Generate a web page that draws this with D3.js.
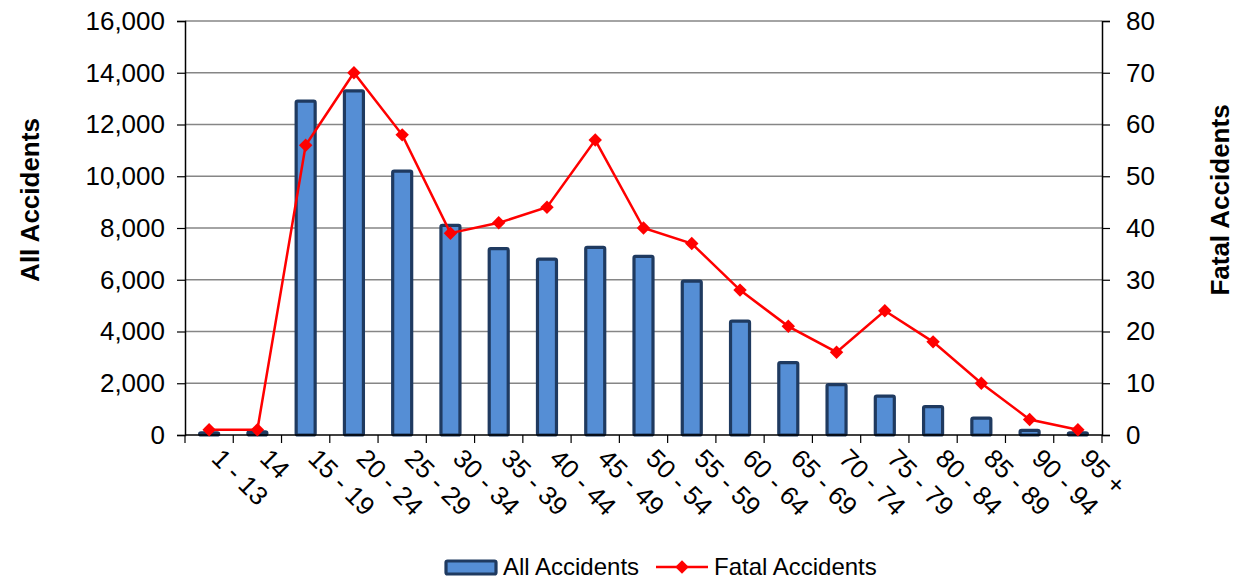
<!DOCTYPE html>
<html>
<head>
<meta charset="utf-8">
<script src="https://cdn.jsdelivr.net/npm/d3@7/dist/d3.min.js"></script>
<style>
body { margin: 0; background: #fff; }
svg { display: block; }
text { font-family: "Liberation Sans", Arial, sans-serif; fill: #000; }
</style>
</head>
<body>
<svg id="chart" width="1236" height="579"></svg>
<script>
const categories = ["1 - 13", "14", "15 - 19", "20 - 24", "25 - 29", "30 - 34", "35 - 39", "40 - 44", "45 - 49", "50 - 54", "55 - 59", "60 - 64", "65 - 69", "70 - 74", "75 - 79", "80 - 84", "85 - 89", "90 - 94", "95 +"];
const allAccidents = [80, 120, 12900, 13300, 10200, 8100, 7200, 6800, 7250, 6900, 5950, 4400, 2800, 1950, 1500, 1100, 650, 180, 80];
const fatalAccidents = [1, 1, 56, 70, 58, 39, 41, 44, 57, 40, 37, 28, 21, 16, 24, 18, 10, 3, 1];
const leftTicks = [0, 2000, 4000, 6000, 8000, 10000, 12000, 14000, 16000];
const rightTicks = [0, 10, 20, 30, 40, 50, 60, 70, 80];
const seriesNames = ["All Accidents", "Fatal Accidents"];

const svg = d3.select("#chart");
const m = { left: 185, right: 1102, top: 21, bottom: 435 };

const x = d3.scaleBand().domain(categories).range([m.left, m.right]).paddingInner(0).paddingOuter(0);
const yL = d3.scaleLinear().domain([0, 16000]).range([m.bottom, m.top]);
const yR = d3.scaleLinear().domain([0, 80]).range([m.bottom, m.top]);

// gridlines
svg.append("g").selectAll("line").data(leftTicks.filter(d => d > 0)).join("line")
  .attr("x1", m.left).attr("x2", m.right)
  .attr("y1", d => yL(d)).attr("y2", d => yL(d))
  .attr("stroke", "#868686").attr("stroke-width", 1.3);

// left axis
const gL = svg.append("g").attr("transform", `translate(${m.left},0)`)
  .call(d3.axisLeft(yL).tickValues(leftTicks).tickFormat(d3.format(",")).tickSize(8).tickPadding(12));
gL.selectAll("text").style("font-size", "26px").attr("fill", "#000");
gL.select(".domain").attr("stroke", "#000").attr("stroke-width", 1.5);
gL.selectAll(".tick line").attr("stroke", "#000").attr("stroke-width", 1.2);

// right axis
const gR = svg.append("g").attr("transform", `translate(${m.right},0)`)
  .call(d3.axisRight(yR).tickValues(rightTicks).tickSize(8).tickPadding(16));
gR.selectAll("text").style("font-size", "26px").attr("fill", "#000");
gR.select(".domain").attr("stroke", "#000").attr("stroke-width", 1.5);
gR.selectAll(".tick line").attr("stroke", "#000").attr("stroke-width", 1.2);

// bars
const barW = 19;
svg.append("g").selectAll("rect").data(allAccidents).join("rect")
  .attr("x", (d, i) => x(categories[i]) + x.bandwidth() / 2 - barW / 2)
  .attr("y", d => yL(d))
  .attr("width", barW)
  .attr("height", d => yL(0) - yL(d))
  .attr("rx", 1.5)
  .attr("fill", "#558ED5")
  .attr("stroke", "#1F3A60")
  .attr("stroke-width", 3.2);

// x axis
svg.append("line").attr("x1", m.left).attr("x2", m.right).attr("y1", m.bottom).attr("y2", m.bottom)
  .attr("stroke", "#000").attr("stroke-width", 1.5);
const bounds = categories.map(c => x(c)).concat([m.right]);
svg.append("g").selectAll("line").data(bounds).join("line")
  .attr("x1", d => d).attr("x2", d => d).attr("y1", m.bottom).attr("y2", m.bottom + 8)
  .attr("stroke", "#000").attr("stroke-width", 1.2);

svg.append("g").selectAll("text").data(categories).join("text")
  .attr("transform", d => `translate(${x(d) + x.bandwidth() / 2 + 1},${m.bottom + 25}) rotate(45)`)
  .attr("text-anchor", "start")
  .style("font-size", "26px")
  .text(d => d);

// fatal line
const line = d3.line().x((d, i) => x(categories[i]) + x.bandwidth() / 2).y(d => yR(d));
svg.append("path").datum(fatalAccidents).attr("d", line)
  .attr("fill", "none").attr("stroke", "#FF0000").attr("stroke-width", 2.5);
const diamond = d3.symbol().type(d3.symbolDiamond2).size(115);
svg.append("g").selectAll("path").data(fatalAccidents).join("path")
  .attr("transform", (d, i) => `translate(${x(categories[i]) + x.bandwidth() / 2},${yR(d)})`)
  .attr("d", diamond).attr("fill", "#FF0000");

// axis titles
svg.append("text").attr("transform", "translate(39,200) rotate(-90)")
  .attr("text-anchor", "middle").style("font-size", "26px").style("font-weight", "bold")
  .text("All Accidents");
svg.append("text").attr("transform", "translate(1229,200) rotate(-90)")
  .attr("text-anchor", "middle").style("font-size", "26px").style("font-weight", "bold")
  .text("Fatal Accidents");

// legend
const lg = svg.append("g");
lg.append("rect").attr("x", 446).attr("y", 561).attr("width", 50).attr("height", 13)
  .attr("fill", "#558ED5").attr("stroke", "#1F3A60").attr("stroke-width", 3.2).attr("rx", 1.5);
lg.append("text").attr("x", 503).attr("y", 575).style("font-size", "24px").text(seriesNames[0]);
lg.append("line").attr("x1", 656).attr("x2", 708).attr("y1", 567).attr("y2", 567)
  .attr("stroke", "#FF0000").attr("stroke-width", 2.5);
lg.append("path").attr("transform", "translate(682,567)").attr("d", diamond).attr("fill", "#FF0000");
lg.append("text").attr("x", 714).attr("y", 575).style("font-size", "24px").text(seriesNames[1]);
</script>
</body>
</html>
